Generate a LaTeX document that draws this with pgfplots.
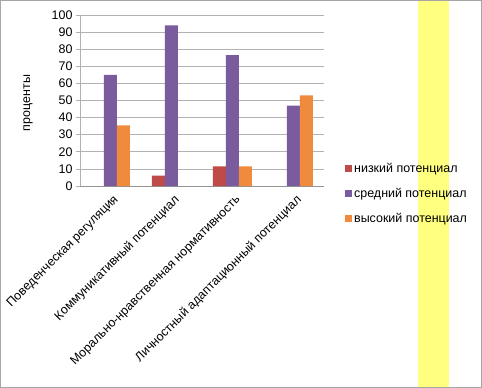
\documentclass[border=0pt]{standalone}
\usepackage{pgfplots}
\pgfplotsset{compat=1.18}
\usepackage{fontspec}
\setmainfont{Liberation Sans}
\definecolor{cLow}{HTML}{BE4B48}
\definecolor{cMid}{HTML}{7A5C9E}
\definecolor{cHigh}{HTML}{F08B3E}
\definecolor{cYel}{HTML}{FFFF80}
\begin{document}
\begin{tikzpicture}
\useasboundingbox (0bp,0bp) rectangle (482bp,388bp);
\fill[white] (0bp,0bp) rectangle (482bp,388bp);
\fill[cYel] (418bp,0bp) rectangle (449bp,388bp);
\draw[gray!70, line width=1bp] (0.5bp,0.5bp) rectangle (481.5bp,387.5bp);
\begin{axis}[
  at={(80bp,202bp)}, anchor=south west,
  width=244bp, height=171bp, scale only axis,
  ybar=0pt, bar width=13bp,
  ymin=0, ymax=100, ytick={0,10,...,100},
  xmin=-0.5, xmax=3.5, xtick={0,1,2,3},
  xticklabels={Поведенческая регуляция, Коммуникативный потенциал, Морально-нравственная нормативность, Личностный адаптационный потенциал},
  ymajorgrids, grid style={draw=gray!60, line width=0.6bp},
  axis x line*=bottom, axis y line*=left,
  x axis line style={draw=gray!85, line width=0.8bp},
  y axis line style={draw=gray!60, line width=0.6bp},
  xtick style={draw=none}, ytick style={draw=gray!60, line width=0.6bp},
  tick align=outside, major tick length=4bp,
  ticklabel style={font=\fontsize{12.5}{14}\selectfont},
  /pgf/number format/assume math mode=true,
  xticklabel style={rotate=45, anchor=east, yshift=-10bp, xshift=2bp},
  ylabel={проценты},
  ylabel style={at={(axis description cs:-0.213,0.485)}, anchor=center, font=\fontsize{12.5}{14}\selectfont},
  legend style={draw=none, fill=none, at={(axis description cs:1,-0.045)}, anchor=west, xshift=18bp,
    font=\fontsize{12.5}{14}\selectfont, row sep=10bp},
  legend cell align=left,
  legend image code/.code={\fill[#1] (0bp,-3.5bp) rectangle (7bp,3.5bp);},
]
\addplot[fill=cLow, draw=none] coordinates {(1,6) (2,11.5)};
\addplot[fill=cMid, draw=none] coordinates {(0,65) (1,94) (2,76.5) (3,47)};
\addplot[fill=cHigh, draw=none] coordinates {(0,35.5) (2,11.5) (3,53)};
\legend{низкий потенциал, средний потенциал, высокий потенциал}
\end{axis}
\end{tikzpicture}
\end{document}
